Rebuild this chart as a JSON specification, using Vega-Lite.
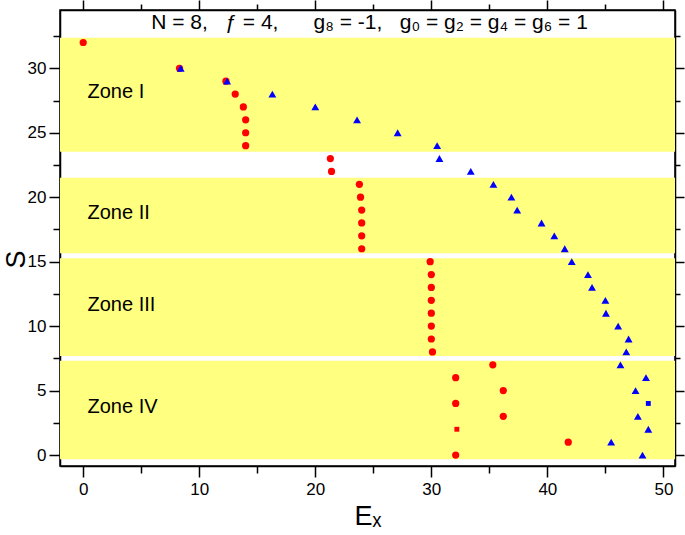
{
  "$schema": "https://vega.github.io/schema/vega-lite/v6.json",
  "width": 615,
  "height": 456,
  "autosize": "none",
  "padding": {"left": 60, "top": 10, "right": 10, "bottom": 69},
  "background": "white",
  "config": {
    "view": {"stroke": "black", "strokeWidth": 1.5},
    "font": "Liberation Sans",
    "axis": {"grid": false, "domainColor": "black", "domainWidth": 1.5, "tickColor": "black", "tickWidth": 1.5, "labelColor": "black", "titleColor": "black", "labelFontSize": 17, "labelFont": "Liberation Sans", "titleFont": "Liberation Sans", "titleFontWeight": "normal"}
  },
  "datasets": {
    "zones": [
      {"zone": "Zone I", "bottom": 23.53, "top": 32.37},
      {"zone": "Zone II", "bottom": 15.65, "top": 21.51},
      {"zone": "Zone III", "bottom": 7.68, "top": 15.26},
      {"zone": "Zone IV", "bottom": -0.33, "top": 7.32}
    ],
    "points": [
      {"series": "red", "kind": "circle", "Ex": 0, "S": 32},
      {"series": "red", "kind": "circle", "Ex": 8.3, "S": 30},
      {"series": "red", "kind": "circle", "Ex": 12.3, "S": 29},
      {"series": "red", "kind": "circle", "Ex": 13.1, "S": 28},
      {"series": "red", "kind": "circle", "Ex": 13.8, "S": 27},
      {"series": "red", "kind": "circle", "Ex": 14.0, "S": 26},
      {"series": "red", "kind": "circle", "Ex": 14.0, "S": 25},
      {"series": "red", "kind": "circle", "Ex": 14.0, "S": 24},
      {"series": "red", "kind": "circle", "Ex": 21.3, "S": 23},
      {"series": "red", "kind": "circle", "Ex": 21.4, "S": 22},
      {"series": "red", "kind": "circle", "Ex": 23.8, "S": 21},
      {"series": "red", "kind": "circle", "Ex": 23.9, "S": 20},
      {"series": "red", "kind": "circle", "Ex": 24.0, "S": 19},
      {"series": "red", "kind": "circle", "Ex": 24.0, "S": 18},
      {"series": "red", "kind": "circle", "Ex": 24.0, "S": 17},
      {"series": "red", "kind": "circle", "Ex": 24.0, "S": 16},
      {"series": "red", "kind": "circle", "Ex": 29.9, "S": 15},
      {"series": "red", "kind": "circle", "Ex": 30.0, "S": 14},
      {"series": "red", "kind": "circle", "Ex": 30.0, "S": 13},
      {"series": "red", "kind": "circle", "Ex": 30.0, "S": 12},
      {"series": "red", "kind": "circle", "Ex": 30.0, "S": 11},
      {"series": "red", "kind": "circle", "Ex": 30.0, "S": 10},
      {"series": "red", "kind": "circle", "Ex": 30.0, "S": 9},
      {"series": "red", "kind": "circle", "Ex": 30.1, "S": 8},
      {"series": "red", "kind": "circle", "Ex": 35.3, "S": 7},
      {"series": "red", "kind": "circle", "Ex": 32.1, "S": 6},
      {"series": "red", "kind": "circle", "Ex": 36.2, "S": 5},
      {"series": "red", "kind": "circle", "Ex": 32.1, "S": 4},
      {"series": "red", "kind": "circle", "Ex": 36.2, "S": 3},
      {"series": "red", "kind": "square", "Ex": 32.2, "S": 2},
      {"series": "red", "kind": "circle", "Ex": 41.8, "S": 1},
      {"series": "red", "kind": "circle", "Ex": 32.1, "S": 0},
      {"series": "blue", "kind": "triangle", "Ex": 8.4, "S": 30},
      {"series": "blue", "kind": "triangle", "Ex": 12.4, "S": 29},
      {"series": "blue", "kind": "triangle", "Ex": 16.3, "S": 28},
      {"series": "blue", "kind": "triangle", "Ex": 20.0, "S": 27},
      {"series": "blue", "kind": "triangle", "Ex": 23.6, "S": 26},
      {"series": "blue", "kind": "triangle", "Ex": 27.1, "S": 25},
      {"series": "blue", "kind": "triangle", "Ex": 30.5, "S": 24},
      {"series": "blue", "kind": "triangle", "Ex": 30.7, "S": 23},
      {"series": "blue", "kind": "triangle", "Ex": 33.4, "S": 22},
      {"series": "blue", "kind": "triangle", "Ex": 35.35, "S": 21},
      {"series": "blue", "kind": "triangle", "Ex": 36.9, "S": 20},
      {"series": "blue", "kind": "triangle", "Ex": 37.4, "S": 19},
      {"series": "blue", "kind": "triangle", "Ex": 39.5, "S": 18},
      {"series": "blue", "kind": "triangle", "Ex": 40.6, "S": 17},
      {"series": "blue", "kind": "triangle", "Ex": 41.5, "S": 16},
      {"series": "blue", "kind": "triangle", "Ex": 42.1, "S": 15},
      {"series": "blue", "kind": "triangle", "Ex": 43.5, "S": 14},
      {"series": "blue", "kind": "triangle", "Ex": 43.85, "S": 13},
      {"series": "blue", "kind": "triangle", "Ex": 45.0, "S": 12},
      {"series": "blue", "kind": "triangle", "Ex": 45.05, "S": 11},
      {"series": "blue", "kind": "triangle", "Ex": 46.1, "S": 10},
      {"series": "blue", "kind": "triangle", "Ex": 47.0, "S": 9},
      {"series": "blue", "kind": "triangle", "Ex": 46.8, "S": 8},
      {"series": "blue", "kind": "triangle", "Ex": 46.3, "S": 7},
      {"series": "blue", "kind": "triangle", "Ex": 48.5, "S": 6},
      {"series": "blue", "kind": "triangle", "Ex": 47.6, "S": 5},
      {"series": "blue", "kind": "square", "Ex": 48.7, "S": 4},
      {"series": "blue", "kind": "triangle", "Ex": 47.8, "S": 3},
      {"series": "blue", "kind": "triangle", "Ex": 48.7, "S": 2},
      {"series": "blue", "kind": "triangle", "Ex": 45.5, "S": 1},
      {"series": "blue", "kind": "triangle", "Ex": 48.2, "S": 0}
    ]
  },
  "layer": [
    {
      "data": {"name": "zones"},
      "mark": {"type": "rect", "color": "#ffff80"},
      "encoding": {
        "y": {"field": "top", "type": "quantitative", "scale": {"domain": [-0.85, 34.52], "nice": false, "zero": false}, "axis": null},
        "y2": {"field": "bottom"}
      }
    },
    {
      "data": {"name": "zones"},
      "transform": [{"calculate": "(datum.top + datum.bottom) / 2 + 0.2", "as": "mid"}],
      "mark": {"type": "text", "align": "left", "baseline": "middle", "fontSize": 20, "font": "Liberation Sans", "color": "black"},
      "encoding": {
        "x": {"datum": 0.37, "type": "quantitative", "scale": {"domain": [-2, 51], "nice": false, "zero": false}, "axis": null},
        "y": {"field": "mid", "type": "quantitative", "scale": {"domain": [-0.85, 34.52], "nice": false, "zero": false}, "axis": null},
        "text": {"field": "zone"}
      }
    },
    {
      "data": {"name": "points"},
      "transform": [{"filter": "datum.series === 'red' && datum.kind === 'circle'"}],
      "mark": {"type": "point", "shape": "circle", "filled": true, "color": "#ff0000", "size": 52, "opacity": 1},
      "encoding": {
        "x": {"field": "Ex", "type": "quantitative", "scale": {"domain": [-2, 51], "nice": false, "zero": false},
          "axis": {"orient": "bottom", "values": [0, 5, 10, 15, 20, 25, 30, 35, 40, 45, 50], "labelExpr": "datum.value % 10 === 0 ? datum.label : ''", "tickSize": {"condition": {"test": "datum.value % 10 === 0", "value": 11}, "value": 7}, "labelPadding": 4, "title": "Eₓ", "titleFontSize": 27, "titlePadding": 6}},
        "y": {"field": "S", "type": "quantitative", "scale": {"domain": [-0.85, 34.52], "nice": false, "zero": false},
          "axis": {"orient": "left", "values": [0, 2.5, 5, 7.5, 10, 12.5, 15, 17.5, 20, 22.5, 25, 27.5, 30, 32.5], "labelExpr": "datum.value % 5 === 0 ? datum.label : ''", "tickSize": {"condition": {"test": "datum.value % 5 === 0", "value": 11}, "value": 7}, "labelPadding": 3, "title": "S", "titleFontSize": 27, "titleX": -44, "titleY": 249, "titleAngle": -90, "titleAlign": "center", "titleBaseline": "middle"}}
      }
    },
    {
      "data": {"name": "points"},
      "transform": [{"filter": "datum.series === 'red' && datum.kind === 'square'"}],
      "mark": {"type": "point", "shape": "square", "filled": true, "color": "#ff0000", "size": 24, "opacity": 1},
      "encoding": {
        "x": {"field": "Ex", "type": "quantitative", "scale": {"domain": [-2, 51], "nice": false, "zero": false}, "axis": null},
        "y": {"field": "S", "type": "quantitative", "scale": {"domain": [-0.85, 34.52], "nice": false, "zero": false}, "axis": null}
      }
    },
    {
      "data": {"name": "points"},
      "transform": [{"filter": "datum.series === 'blue' && datum.kind === 'triangle'"}],
      "mark": {"type": "point", "shape": "triangle-up", "filled": true, "color": "#0000ff", "size": 62, "opacity": 1},
      "encoding": {
        "x": {"field": "Ex", "type": "quantitative", "scale": {"domain": [-2, 51], "nice": false, "zero": false},
          "axis": {"orient": "top", "values": [0, 5, 10, 15, 20, 25, 30, 35, 40, 45, 50], "labels": false, "title": null, "tickSize": {"condition": {"test": "datum.value % 10 === 0", "value": 10}, "value": 6}}},
        "y": {"field": "S", "type": "quantitative", "scale": {"domain": [-0.85, 34.52], "nice": false, "zero": false},
          "axis": {"orient": "right", "values": [0, 2.5, 5, 7.5, 10, 12.5, 15, 17.5, 20, 22.5, 25, 27.5, 30, 32.5], "labels": false, "title": null, "tickSize": {"condition": {"test": "datum.value % 5 === 0", "value": 9}, "value": 5}}}
      }
    },
    {
      "data": {"name": "points"},
      "transform": [{"filter": "datum.series === 'blue' && datum.kind === 'square'"}],
      "mark": {"type": "point", "shape": "square", "filled": true, "color": "#0000ff", "size": 24, "opacity": 1},
      "encoding": {
        "x": {"field": "Ex", "type": "quantitative", "scale": {"domain": [-2, 51], "nice": false, "zero": false}, "axis": null},
        "y": {"field": "S", "type": "quantitative", "scale": {"domain": [-0.85, 34.52], "nice": false, "zero": false}, "axis": null}
      }
    },
    {
      "data": {"values": [{"label": "N = 8,\u00a0\u00a0 ƒ = 4,\u00a0\u00a0\u00a0\u00a0\u00a0 g₈ = -1,\u00a0\u00a0 g₀ = g₂ = g₄ = g₆ = 1"}]},
      "mark": {"type": "text", "align": "left", "baseline": "middle", "fontSize": 21, "font": "Liberation Sans", "color": "black"},
      "encoding": {
        "x": {"datum": 5.86, "type": "quantitative", "scale": {"domain": [-2, 51], "nice": false, "zero": false}, "axis": null},
        "y": {"datum": 33.55, "type": "quantitative", "scale": {"domain": [-0.85, 34.52], "nice": false, "zero": false}, "axis": null},
        "text": {"field": "label"}
      }
    }
  ],
  "resolve": {"axis": {"x": "independent", "y": "independent"}}
}
